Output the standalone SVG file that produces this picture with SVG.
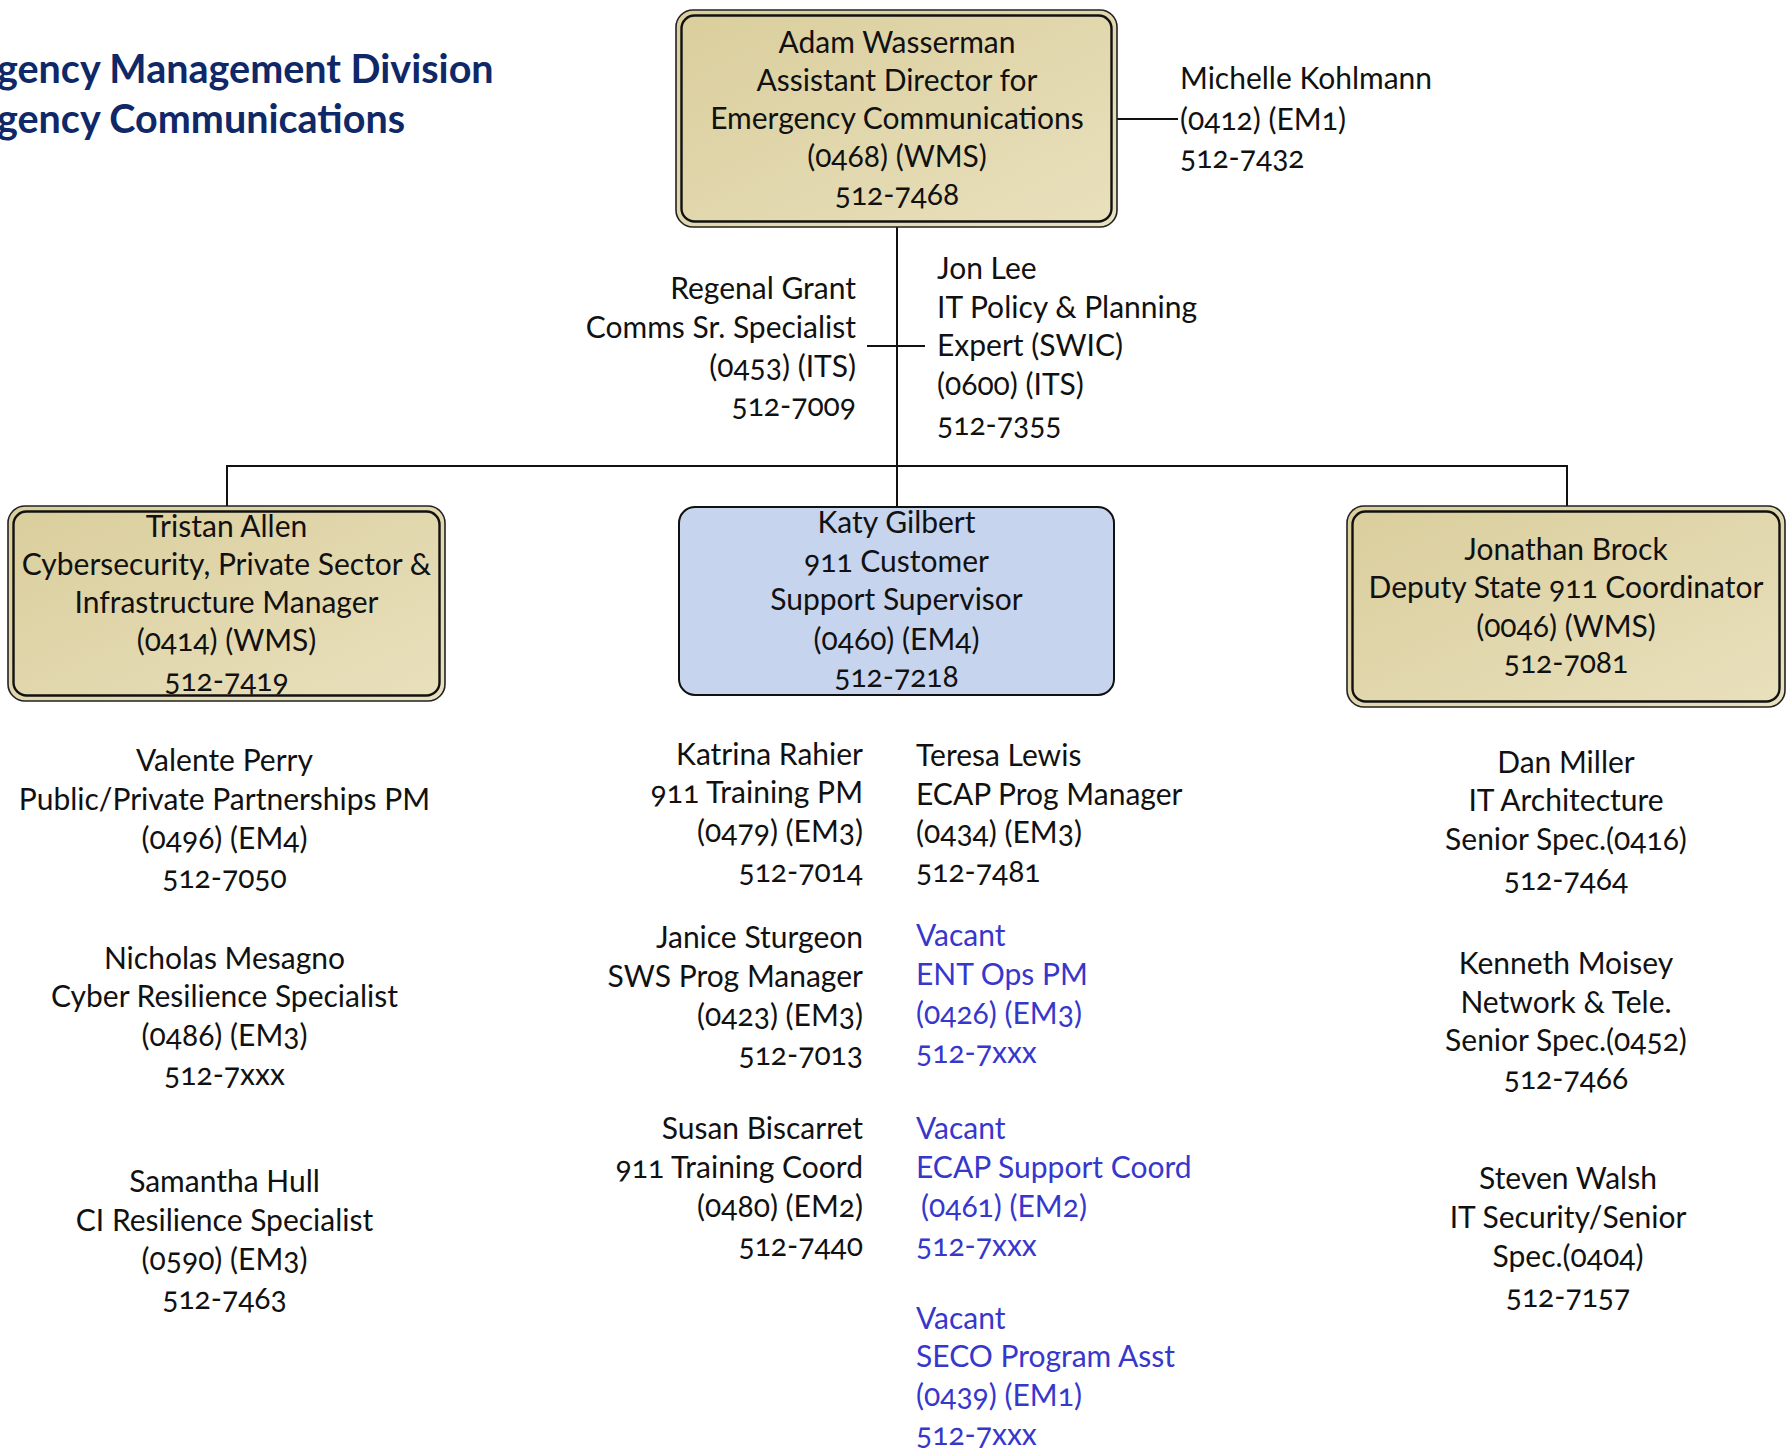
<svg xmlns="http://www.w3.org/2000/svg" width="1787" height="1452" viewBox="0 0 1787 1452">
<defs>
<linearGradient id="tan" x1="0" y1="0" x2="1" y2="1">
<stop offset="0" stop-color="#DACE9C"/>
<stop offset="1" stop-color="#E9E0BD"/>
</linearGradient>
<style>
text{font-family:Lato,"Liberation Sans",sans-serif;font-size:30px;fill:#111;font-variant-numeric:oldstyle-nums;}
.c{text-anchor:middle;}
.e{text-anchor:end;}
.v{fill:#3737CC;}
.title{font-weight:bold;font-size:39.5px;fill:#0F2868;font-variant-numeric:normal;}
.outer{fill:url(#tan);stroke:#222;stroke-width:1.6;}
.inner{fill:none;stroke:#111;stroke-width:2.4;}
.blue{fill:#C7D4EE;stroke:#111;stroke-width:2;}
.conn{stroke:#111;stroke-width:2;fill:none;}
</style>
</defs>
<rect width="1787" height="1452" fill="#fff"/>

<g id="title">
<text class="title" x="-3" y="83">gency Management Division</text>
<text class="title" x="-3" y="133">gency Communications</text>
</g>

<g id="connectors">
<path class="conn" d="M897 227V507"/>
<path class="conn" d="M227 506V466H1567V506"/>
<path class="conn" d="M1117 119H1178"/>
<path class="conn" d="M867 346H925"/>
</g>

<g id="adam">
<rect class="outer" x="676" y="10" width="441" height="217" rx="17"/>
<rect class="inner" x="681.5" y="15.5" width="430" height="206" rx="13"/>
<text class="c" x="897" y="53">Adam Wasserman</text>
<text class="c" x="897" y="91">Assistant Director for</text>
<text class="c" x="897" y="129">Emergency Communications</text>
<text class="c" x="897" y="167">(0468) (WMS)</text>
<text class="c" x="897" y="205">512-7468</text>
</g>

<g id="michelle">
<text x="1180" y="89">Michelle Kohlmann</text>
<text x="1180" y="130">(0412) (EM1)</text>
<text x="1180" y="168">512-7432</text>
</g>

<g id="regenal">
<text class="e" x="856" y="299">Regenal Grant</text>
<text class="e" x="856" y="338">Comms Sr. Specialist</text>
<text class="e" x="856" y="377">(0453) (ITS)</text>
<text class="e" x="856" y="416">512-7009</text>
</g>

<g id="jonlee">
<text x="937" y="279">Jon Lee</text>
<text x="937" y="318">IT Policy &amp; Planning</text>
<text x="937" y="356">Expert (SWIC)</text>
<text x="937" y="395">(0600) (ITS)</text>
<text x="937" y="435">512-7355</text>
</g>

<g id="tristan">
<rect class="outer" x="8" y="506" width="437" height="195" rx="17"/>
<rect class="inner" x="13.5" y="511.5" width="426" height="184" rx="13"/>
<text class="c" x="226.5" y="537">Tristan Allen</text>
<text class="c" x="226.5" y="575">Cybersecurity, Private Sector &amp;</text>
<text class="c" x="226.5" y="613">Infrastructure Manager</text>
<text class="c" x="226.5" y="651">(0414) (WMS)</text>
<text class="c" x="226.5" y="691">512-7419</text>
</g>

<g id="katy">
<rect class="blue" x="679" y="507" width="435" height="188" rx="16"/>
<text class="c" x="896.5" y="533">Katy Gilbert</text>
<text class="c" x="896.5" y="572">911 Customer</text>
<text class="c" x="896.5" y="610">Support Supervisor</text>
<text class="c" x="896.5" y="650">(0460) (EM4)</text>
<text class="c" x="896.5" y="687">512-7218</text>
</g>

<g id="jonathan">
<rect class="outer" x="1347" y="506" width="438" height="201" rx="17"/>
<rect class="inner" x="1352.5" y="511.5" width="427" height="190" rx="13"/>
<text class="c" x="1566" y="560">Jonathan Brock</text>
<text class="c" x="1566" y="598">Deputy State 911 Coordinator</text>
<text class="c" x="1566" y="637">(0046) (WMS)</text>
<text class="c" x="1566" y="673">512-7081</text>
</g>

<g id="valente">
<text class="c" x="224.5" y="771">Valente Perry</text>
<text class="c" x="224.5" y="810">Public/Private Partnerships PM</text>
<text class="c" x="224.5" y="849">(0496) (EM4)</text>
<text class="c" x="224.5" y="888">512-7050</text>
</g>

<g id="nicholas">
<text class="c" x="224.5" y="969">Nicholas Mesagno</text>
<text class="c" x="224.5" y="1007">Cyber Resilience Specialist</text>
<text class="c" x="224.5" y="1046">(0486) (EM3)</text>
<text class="c" x="224.5" y="1085">512-7xxx</text>
</g>

<g id="samantha">
<text class="c" x="224.5" y="1192">Samantha Hull</text>
<text class="c" x="224.5" y="1231">CI Resilience Specialist</text>
<text class="c" x="224.5" y="1270">(0590) (EM3)</text>
<text class="c" x="224.5" y="1309">512-7463</text>
</g>

<g id="katrina">
<text class="e" x="863" y="765">Katrina Rahier</text>
<text class="e" x="863" y="803">911 Training PM</text>
<text class="e" x="863" y="842">(0479) (EM3)</text>
<text class="e" x="863" y="882">512-7014</text>
</g>

<g id="janice">
<text class="e" x="863" y="948">Janice Sturgeon</text>
<text class="e" x="863" y="987">SWS Prog Manager</text>
<text class="e" x="863" y="1026">(0423) (EM3)</text>
<text class="e" x="863" y="1065">512-7013</text>
</g>

<g id="susan">
<text class="e" x="863" y="1139">Susan Biscarret</text>
<text class="e" x="863" y="1178">911 Training Coord</text>
<text class="e" x="863" y="1217">(0480) (EM2)</text>
<text class="e" x="863" y="1256">512-7440</text>
</g>

<g id="teresa">
<text x="916" y="766">Teresa Lewis</text>
<text x="916" y="805">ECAP Prog Manager</text>
<text x="916" y="843">(0434) (EM3)</text>
<text x="916" y="882">512-7481</text>
</g>

<g id="vacant-ent">
<text class="v" x="916" y="946">Vacant</text>
<text class="v" x="916" y="985">ENT Ops PM</text>
<text class="v" x="916" y="1024">(0426) (EM3)</text>
<text class="v" x="916" y="1063">512-7xxx</text>
</g>

<g id="vacant-ecap">
<text class="v" x="916" y="1139">Vacant</text>
<text class="v" x="916" y="1178">ECAP Support Coord</text>
<text class="v" x="921" y="1217">(0461) (EM2)</text>
<text class="v" x="916" y="1256">512-7xxx</text>
</g>

<g id="vacant-seco">
<text class="v" x="916" y="1329">Vacant</text>
<text class="v" x="916" y="1367">SECO Program Asst</text>
<text class="v" x="916" y="1406">(0439) (EM1)</text>
<text class="v" x="916" y="1445">512-7xxx</text>
</g>

<g id="dan">
<text class="c" x="1566" y="773">Dan Miller</text>
<text class="c" x="1566" y="811">IT Architecture</text>
<text class="c" x="1566" y="850">Senior Spec.(0416)</text>
<text class="c" x="1566" y="890">512-7464</text>
</g>

<g id="kenneth">
<text class="c" x="1566" y="974">Kenneth Moisey</text>
<text class="c" x="1566" y="1013">Network &amp; Tele.</text>
<text class="c" x="1566" y="1051">Senior Spec.(0452)</text>
<text class="c" x="1566" y="1089">512-7466</text>
</g>

<g id="steven">
<text class="c" x="1568" y="1189">Steven Walsh</text>
<text class="c" x="1568" y="1228">IT Security/Senior</text>
<text class="c" x="1568" y="1267">Spec.(0404)</text>
<text class="c" x="1568" y="1307">512-7157</text>
</g>
</svg>
